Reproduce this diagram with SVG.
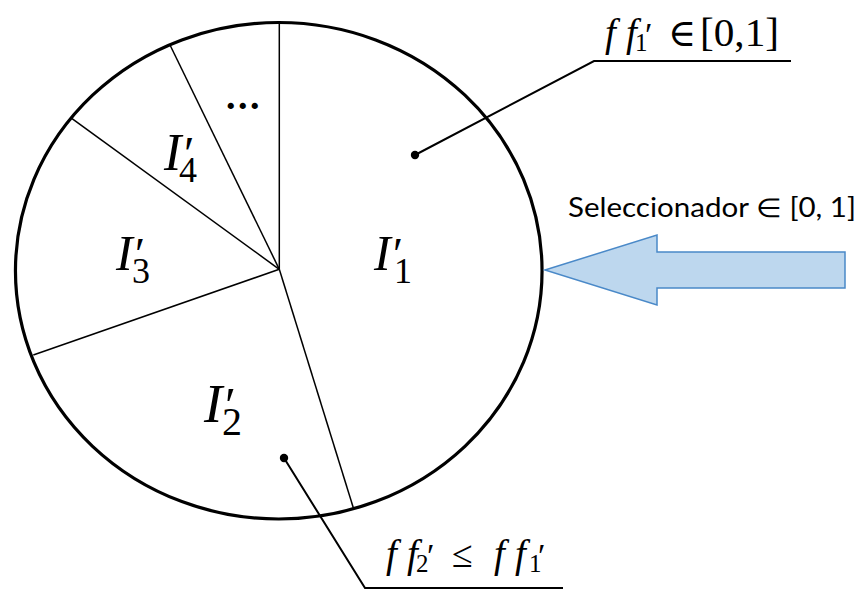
<svg xmlns="http://www.w3.org/2000/svg" width="860" height="590" viewBox="0 0 860 590">
<style>
.m{font-family:"Liberation Serif","DejaVu Serif",serif;fill:#000}
.i{font-style:italic}
.spoke{stroke:#000;stroke-width:1.5;fill:none}
.call{stroke:#000;stroke-width:2;fill:none}
</style>
<rect width="860" height="590" fill="#fff"/>
<g id="wheel">
<ellipse cx="278.75" cy="270.75" rx="263.3" ry="248.25" fill="#fff" stroke="#000" stroke-width="3.2"/>
</g>
<g id="connectors">
<line class="spoke" x1="279.3" y1="269.3" x2="279.3" y2="22.5"/>
<line class="spoke" x1="279.3" y1="269.3" x2="170" y2="45"/>
<line class="spoke" x1="279.3" y1="269.3" x2="71.7" y2="118.3"/>
<line class="spoke" x1="279.3" y1="269.3" x2="33.3" y2="355"/>
<line class="spoke" x1="279.3" y1="269.3" x2="353.3" y2="507.7"/>
<polyline class="call" points="415,155 594,61 791,61"/>
<polyline class="call" points="284,458 365,588 563,588"/>
<circle cx="415" cy="155" r="4.2" fill="#000"/>
<circle cx="284" cy="458" r="4.2" fill="#000"/>
</g>
<g id="sector-1">
<text class="m" y="270"><tspan class="i" x="374" font-size="50">I</tspan><tspan x="393" font-size="46">′</tspan><tspan x="394" dy="13" font-size="36">1</tspan></text>
</g>
<g id="sector-2">
<text class="m" y="422"><tspan class="i" x="204" font-size="55">I</tspan><tspan x="225" font-size="50">′</tspan><tspan x="222" dy="13" font-size="40">2</tspan></text>
</g>
<g id="sector-3">
<text class="m" y="270"><tspan class="i" x="116" font-size="50">I</tspan><tspan x="135" font-size="46">′</tspan><tspan x="132" dy="13" font-size="36">3</tspan></text>
</g>
<g id="sector-4">
<text class="m" y="170"><tspan class="i" x="164" font-size="52">I</tspan><tspan x="184" font-size="48">′</tspan><tspan x="179" dy="12" font-size="36">4</tspan></text>
</g>
<g id="sector-more">
<text class="m" x="226" y="109" font-size="38" font-weight="bold" letter-spacing="2.5">...</text>
</g>
<g id="label-ff1">
<text class="m" y="46" font-size="39"><tspan class="i" x="605">f</tspan><tspan class="i" x="626">f</tspan><tspan x="645" font-size="34">′</tspan><tspan x="635" dy="5" font-size="25">1</tspan><tspan x="668" dy="-5" font-size="38">∈</tspan><tspan x="700" textLength="79" lengthAdjust="spacingAndGlyphs">[0,1]</tspan></text>
</g>
<g id="label-ff2">
<text class="m" y="567" font-size="39"><tspan class="i" x="386">f</tspan><tspan class="i" x="407">f</tspan><tspan x="427" font-size="34">′</tspan><tspan x="416" dy="5" font-size="25">2</tspan><tspan x="452" dy="-5" font-size="38">≤</tspan><tspan class="i" x="494">f</tspan><tspan class="i" x="515">f</tspan><tspan x="538" font-size="34">′</tspan><tspan x="529" dy="5" font-size="25">1</tspan></text>
</g>
<g id="selector">
<polygon points="545,270 657,235 657,252 845,252 845,288 657,288 657,305" fill="#BDD7EE" stroke="#4A89C8" stroke-width="1.5"/>
<text x="568" y="217" font-family="Lato,'Open Sans',sans-serif" font-size="26" textLength="288" lengthAdjust="spacingAndGlyphs" fill="#000">Seleccionador ∈ [0, 1]</text>
</g>
</svg>
